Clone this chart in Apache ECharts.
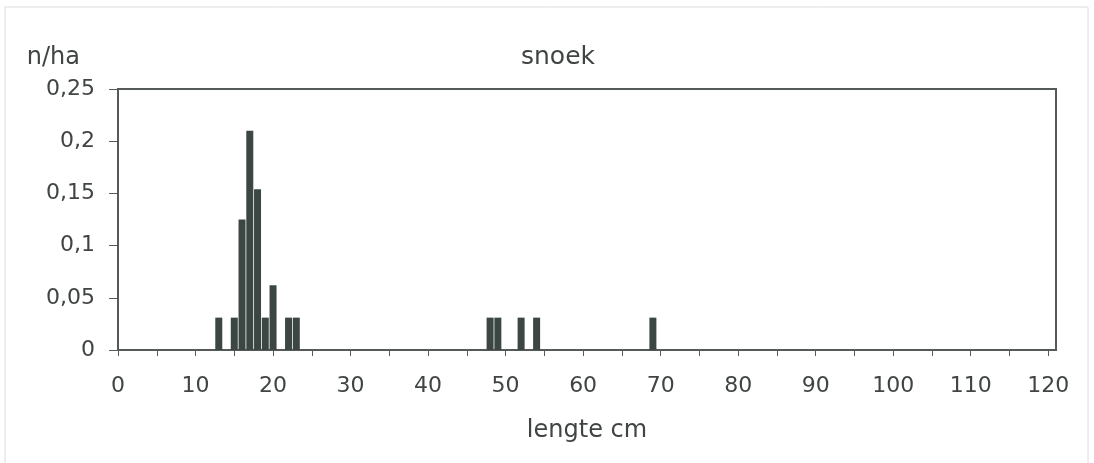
<!DOCTYPE html>
<html>
<head>
<meta charset="utf-8">
<script src="https://cdn.jsdelivr.net/npm/echarts@6/dist/echarts.min.js"></script>
<style>
html,body{margin:0;padding:0;background:#fff;}
#chart{width:1094px;height:463px;}
</style>
</head>
<body>
<div id="chart"></div>
<script>
// Data (length class in cm, density n/ha)
var lengths = [13, 15, 16, 17, 18, 19, 20, 22, 23, 48, 49, 52, 54, 69];
var density = [0.031, 0.031, 0.125, 0.21, 0.154, 0.031, 0.062, 0.031, 0.031, 0.031, 0.031, 0.031, 0.031, 0.031];
var yTicks = [0, 0.05, 0.1, 0.15, 0.2, 0.25];
var xTickLabels = [0, 10, 20, 30, 40, 50, 60, 70, 80, 90, 100, 110, 120];
var titleText = 'snoek';
var yName = 'n/ha';
var xName = 'lengte cm';

var points = lengths.map(function (l, i) { return [l, density[i]]; });
var txt = '#404543';
var lineC = '#555a58';
var font = 'DejaVu Sans';

var chart = echarts.init(document.getElementById('chart'));
chart.setOption({
  animation: false,
  backgroundColor: '#ffffff',
  graphic: [{
    type: 'rect', silent: true,
    shape: { x: 5, y: 7, width: 1083, height: 470 },
    style: { fill: 'none', stroke: '#dcdcdc', lineWidth: 1 }
  }],
  title: {
    text: titleText,
    left: 516, top: 40,
    textStyle: { fontFamily: font, fontSize: 25, fontWeight: 'normal', color: txt }
  },
  grid: {
    left: 118, top: 89, right: 1094 - 1056, bottom: 463 - 350,
    show: true, borderColor: lineC, borderWidth: 2, backgroundColor: 'transparent'
  },
  xAxis: {
    type: 'value', min: 0, max: 121, interval: 5,
    name: xName, nameLocation: 'middle', nameGap: 69,
    nameTextStyle: { fontFamily: font, fontSize: 24, color: txt },
    axisLine: { show: true, lineStyle: { color: lineC, width: 2 } },
    axisTick: { show: true, inside: false, length: 6, lineStyle: { color: lineC, width: 1 } },
    splitLine: { show: false },
    axisLabel: {
      fontFamily: font, fontSize: 22, color: txt, margin: 25,
      showMaxLabel: false,
      formatter: function (v) { return xTickLabels.indexOf(v) >= 0 ? String(v) : ''; }
    }
  },
  yAxis: {
    type: 'value', min: 0, max: 0.25, interval: 0.05,
    name: yName, nameLocation: 'end', nameGap: 19,
    nameTextStyle: { fontFamily: font, fontSize: 24, color: txt, align: 'right', verticalAlign: 'bottom', padding: [0, 38, 0, 0] },
    axisLine: { show: true, lineStyle: { color: lineC, width: 2 } },
    axisTick: { show: true, inside: false, length: 9, lineStyle: { color: lineC, width: 1 } },
    splitLine: { show: false },
    axisLabel: {
      fontFamily: font, fontSize: 22, color: txt, margin: 23,
      formatter: function (v) {
        var r = Math.round(v * 100) / 100;
        return yTicks.indexOf(r) >= 0 ? String(r).replace('.', ',') : '';
      }
    }
  },
  series: [{
    type: 'bar',
    data: points,
    barWidth: 7,
    itemStyle: { color: '#3c4743' }
  }]
});
</script>
</body>
</html>
